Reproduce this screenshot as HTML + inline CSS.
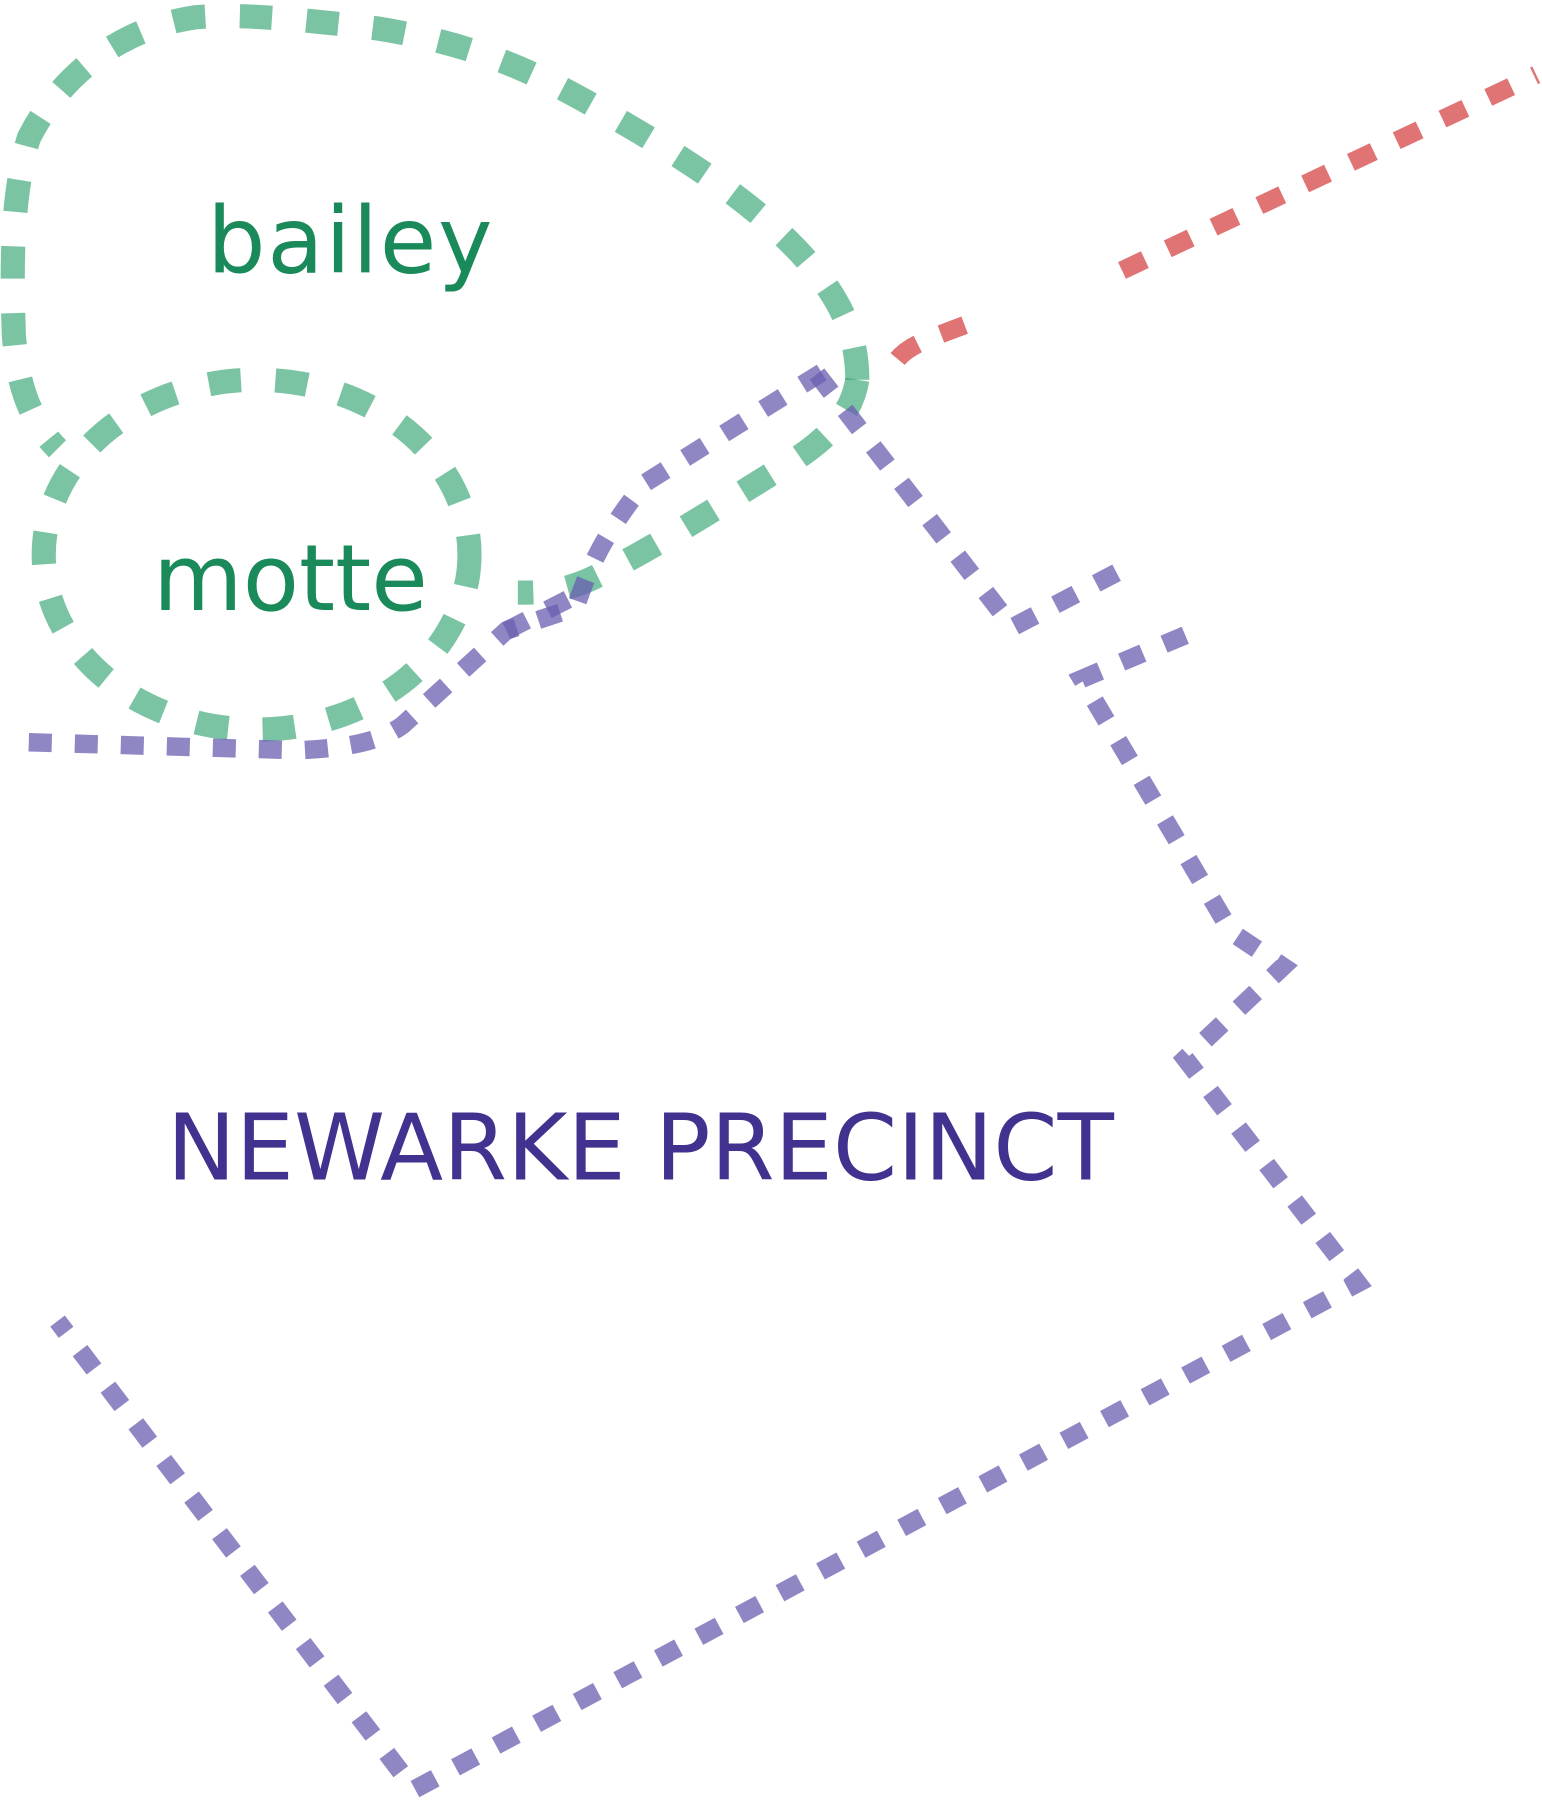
<!DOCTYPE html>
<html><head><meta charset="utf-8"><style>
html,body{margin:0;padding:0;background:#fff;}
svg{display:block;}
</style></head><body>
<svg width="1542" height="1809" viewBox="0 0 1340 1572" preserveAspectRatio="none" xmlns="http://www.w3.org/2000/svg">
<g fill="none" stroke-linejoin="miter">
<path d="M745,330 C745,290 730,260 700,225 C660,180 600,140 530,100 C470,65 420,40 330,25 C250,15 200,12 170,15 C100,25 50,70 25,120 C10,170 10,230 12,290 C15,340 30,370 50,390" stroke="#1b9a60" stroke-opacity="0.58" stroke-width="21" stroke-dasharray="28 30"/>
<path d="M745,330 C740,360 720,380 690,400 C640,430 580,470 520,500 C490,515 470,515 450,515" stroke="#1b9a60" stroke-opacity="0.58" stroke-width="21" stroke-dasharray="28 30"/>
<ellipse cx="223" cy="482" rx="185" ry="152" stroke="#1b9a60" stroke-opacity="0.58" stroke-width="21" stroke-dasharray="28 30"/>
<path d="M780,312 C790,300 805,295 845,280" stroke="#d85050" stroke-opacity="0.8" stroke-width="16" stroke-dasharray="22 22"/>
<path d="M975,235 L1335,65" stroke="#d85050" stroke-opacity="0.8" stroke-width="16" stroke-dasharray="22 22"/>
<g stroke="#6a5db0" stroke-opacity="0.75" stroke-width="16" stroke-dasharray="20 20">
<path d="M25,645 L260,652 C300,650 330,645 350,630 L440,548 L500,528 C510,500 520,470 560,420 L720,320"/>
<path d="M440,548 L505,515"/>
<path d="M710,325 L880,545 L985,490"/>
<path d="M1030,552 L940,590 L1070,810 L1115,840 L1030,920 L1180,1115 L360,1555 L50,1148"/>
</g>
</g>
<g font-family="DejaVu Sans, 'Liberation Sans', sans-serif">
<text x="180" y="237" font-size="80" fill="#1a8a5a" textLength="248" lengthAdjust="spacing">bailey</text>
<text x="133" y="530" font-size="80" fill="#1a8a5a">motte</text>
<text x="145" y="1025" font-size="80" fill="#42318f" textLength="823" lengthAdjust="spacingAndGlyphs">NEWARKE PRECINCT</text>
</g>
</svg>
</body></html>
